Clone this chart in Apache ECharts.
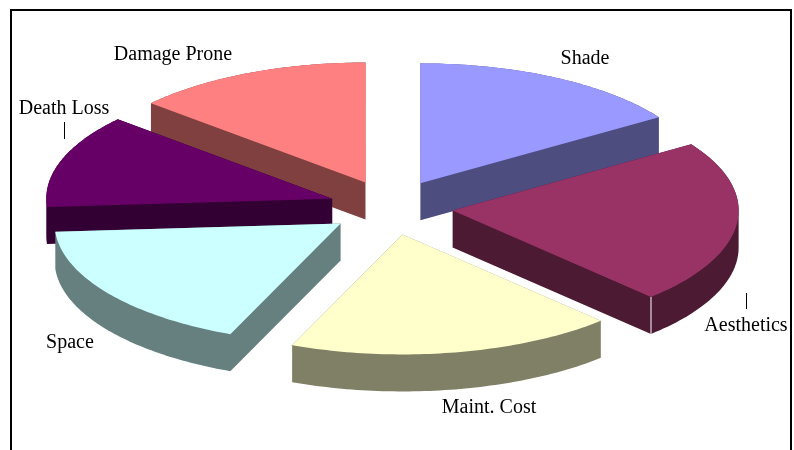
<!DOCTYPE html>
<html>
<head>
<meta charset="utf-8">
<style>html,body{margin:0;padding:0;background:#fff}#c{width:794px;height:450px}</style>
<script src="https://cdn.jsdelivr.net/npm/echarts@6/dist/echarts.min.js"></script>
</head>
<body>
<div id="c"></div>
<script>
// Data
var categories = ['Shade', 'Aesthetics', 'Maint. Cost', 'Space', 'Death Loss', 'Damage Prone'];
var shares = [15.7, 22.1, 18.5, 17.6, 12.6, 13.5];
var topColors = ['#9999FF', '#993366', '#FFFFCC', '#CCFFFF', '#660066', '#FF8080'];
var sideColors = ['#4D4D80', '#4D1A33', '#808066', '#668080', '#330033', '#804040'];

// Layout of the tilted pie
var PIE = {cx: 391, cy: 207.5, rx: 286, ry: 120, explodeX: 62, explodeY: 27.4, depth: 37, startAngle: 90};
var LABELS = [
  {x: 585, y: 59}, {x: 746, y: 326}, {x: 489, y: 408},
  {x: 70, y: 342.5}, {x: 64, y: 109}, {x: 173, y: 55}
];
var LEADERS = {4: [64, 122, 64, 139], 1: [746, 293, 746, 309]};

var total = shares.reduce(function (a, b) { return a + b; }, 0);
var slices = [];
var acc = 0;
shares.forEach(function (v, i) {
  var sweep = v / total * 360;
  var a0 = PIE.startAngle - acc;
  var a1 = a0 - sweep;
  acc += sweep;
  var mid = (a0 + a1) / 2 * Math.PI / 180;
  slices.push({
    index: i, a0: a0, a1: a1, mid: mid,
    apexX: PIE.cx + PIE.explodeX * Math.cos(mid),
    apexY: PIE.cy - PIE.explodeY * Math.sin(mid)
  });
});
// back-to-front painting order
var order = slices.slice().sort(function (p, q) { return Math.sin(q.mid) - Math.sin(p.mid); });

// outline of the extruded slice (each slice is a convex prism)
function hull(points) {
  var pts = points.slice().sort(function (a, b) { return a[0] - b[0] || a[1] - b[1]; });
  function cross(o, a, b) { return (a[0] - o[0]) * (b[1] - o[1]) - (a[1] - o[1]) * (b[0] - o[0]); }
  var lower = [], upper = [];
  pts.forEach(function (p) {
    while (lower.length > 1 && cross(lower[lower.length - 2], lower[lower.length - 1], p) <= 0) lower.pop();
    lower.push(p);
  });
  pts.reverse().forEach(function (p) {
    while (upper.length > 1 && cross(upper[upper.length - 2], upper[upper.length - 1], p) <= 0) upper.pop();
    upper.push(p);
  });
  lower.pop(); upper.pop();
  return lower.concat(upper);
}

function renderSlice(params, api) {
  var s = order[params.dataIndex];
  var i = s.index;
  var arc = [];
  var steps = 64;
  for (var k = 0; k <= steps; k++) {
    var t = (s.a0 + (s.a1 - s.a0) * k / steps) * Math.PI / 180;
    arc.push([s.apexX + PIE.rx * Math.cos(t), s.apexY - PIE.ry * Math.sin(t)]);
  }
  var top = [[s.apexX, s.apexY]].concat(arc);
  var d = PIE.depth;
  var shifted = top.map(function (p) { return [p[0], p[1] + d]; });
  var children = [{
    type: 'polygon',
    shape: {points: hull(top.concat(shifted))},
    style: {fill: sideColors[i]}
  }, {
    type: 'polygon',
    shape: {points: top},
    style: {fill: topColors[i]}
  }];
  if (i === 1) {
    var end = arc[arc.length - 1];
    children.push({
      type: 'line',
      shape: {x1: end[0], y1: end[1], x2: end[0], y2: end[1] + d},
      style: {stroke: '#fff', lineWidth: 1}
    });
  }
  return {type: 'group', children: children};
}

function renderLabel(params, api) {
  var i = params.dataIndex;
  var children = [{
    type: 'text',
    style: {
      text: categories[i], x: LABELS[i].x, y: LABELS[i].y,
      fill: '#000', align: 'center', verticalAlign: 'middle',
      font: '20px "Liberation Serif", "Times New Roman", serif'
    }
  }];
  var l = LEADERS[i];
  if (l) {
    children.push({
      type: 'line',
      shape: {x1: l[0] + 0.5, y1: l[1], x2: l[2] + 0.5, y2: l[3]},
      style: {stroke: '#000', lineWidth: 1}
    });
  }
  return {type: 'group', children: children};
}

var chart = echarts.init(document.getElementById('c'), null, {renderer: 'canvas'});
chart.setOption({
  animation: false,
  backgroundColor: '#fff',
  graphic: [{
    type: 'rect', silent: true, z: 0,
    shape: {x: 11, y: 10, width: 780, height: 480},
    style: {fill: 'none', stroke: '#000', lineWidth: 2}
  }],
  series: [
    {
      type: 'custom', coordinateSystem: 'none', silent: true, z: 2,
      renderItem: renderSlice,
      data: order.map(function (s) { return {name: categories[s.index], value: shares[s.index]}; })
    },
    {
      type: 'custom', coordinateSystem: 'none', silent: true, z: 3,
      renderItem: renderLabel,
      data: categories.map(function (n, i) { return {name: n, value: shares[i]}; })
    }
  ]
});
</script>
</body>
</html>
